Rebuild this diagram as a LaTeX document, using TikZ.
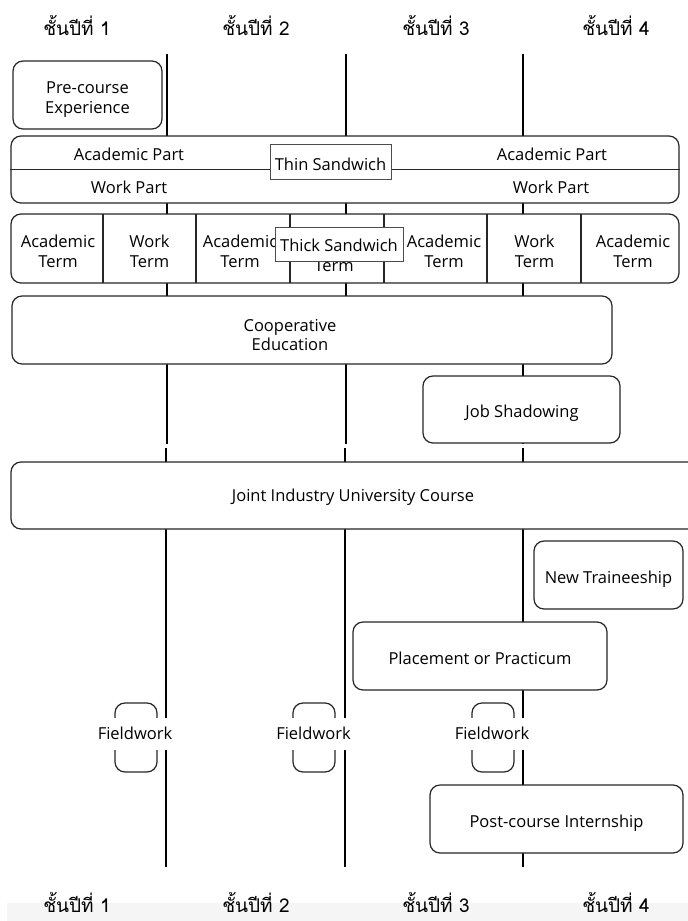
\documentclass[tikz,border=0pt]{standalone}
\usepackage{fontspec}
\setmainfont{Open Sans}
\newfontfamily\thaifont[Script=Thai]{Loma}
\begin{document}
\begin{tikzpicture}[x=1pt,y=-1pt,
  txt/.style={font=\fontsize{16.5}{20}\selectfont, align=center, inner sep=0pt},
  rbox/.style={draw=black!85, line width=1.2pt, rounded corners=10pt, fill=white, inner sep=0pt},
  tagbox/.style={draw=black!70, line width=0.8pt, fill=white, inner sep=0pt},
  hdr/.style={font=\thaifont\fontsize{19}{22}\selectfont, inner sep=0pt, anchor=base},
  yline/.style={line width=1.5pt, black},
  divline/.style={line width=1.2pt, black!85},
  fwbox/.style={draw=black!85, line width=1.2pt, rounded corners=10pt, minimum width=42pt, minimum height=69pt, inner sep=0pt},
  fwlab/.style={fill=white, inner xsep=1pt, inner ysep=0pt, minimum height=32pt, font=\fontsize{16.5}{20}\selectfont}]

\useasboundingbox (0,0) rectangle (688,921);
\fill[black!4] (7,903) rectangle (688,921);

% year headers
\node[hdr] (h1) at (77,35) {ชั้นปีที่ 1};
\node[hdr] (h2) at (256,35) {ชั้นปีที่ 2};
\node[hdr] (h3) at (436,35) {ชั้นปีที่ 3};
\node[hdr] (h4) at (616,35) {ชั้นปีที่ 4};
\node[hdr] (f1) at (77,912) {ชั้นปีที่ 1};
\node[hdr] (f2) at (256,912) {ชั้นปีที่ 2};
\node[hdr] (f3) at (436,912) {ชั้นปีที่ 3};
\node[hdr] (f4) at (616,912) {ชั้นปีที่ 4};

% year boundary lines
\coordinate (ta) at (167,54); \coordinate (ma) at (167,444);
\coordinate (na) at (166,448); \coordinate (ba) at (166,867);
\coordinate (tb) at (346,54); \coordinate (mb) at (346,444);
\coordinate (nb) at (345,448); \coordinate (bb) at (345,867);
\coordinate (tc) at (523,54); \coordinate (mc) at (523,444);
\coordinate (nc) at (523,448); \coordinate (bc) at (523,867);
\draw[yline] (ta) -- (ma); \draw[yline] (na) -- (ba);
\draw[yline] (tb) -- (mb); \draw[yline] (nb) -- (bb);
\draw[yline] (tc) -- (mc); \draw[yline] (nc) -- (bc);

% pre-course
\node[rbox, minimum width=149pt, minimum height=68pt] (pre) at (87.5,95) {};
\node[txt] (preL) at (87.5,100) {Pre-course\\Experience};

% thin sandwich
\node[rbox, minimum width=668pt, minimum height=67pt] (thin) at (345,169.5) {};
\draw[divline] (thin.west) -- (thin.east);
\node[txt] (ap1) at (129,154.5) {Academic Part};
\node[txt] (ap2) at (552,154.5) {Academic Part};
\node[txt] (wp1) at (129,187.5) {Work Part};
\node[txt] (wp2) at (551,187.5) {Work Part};
\node[tagbox, minimum width=121pt, minimum height=35pt] (thin tag) at (330.5,161.5) {};
\node[txt] (thinT) at (330.5,164) {Thin Sandwich};

% thick sandwich
\node[rbox, minimum width=668pt, minimum height=69pt] (thick) at (345,248.5) {};
\foreach \x in {103,196,290,384,487,581} {\draw[divline] (\x,214) -- (\x,283);}
\node[txt] (c1) at (58,251.5) {Academic\\Term};
\node[txt] (c2) at (149.5,251) {Work\\Term};
\node[txt] (c3) at (240,251.5) {Academic\\Term};
\node[txt] (c4) at (334,255) {Work\\Term};
\node[txt] (c5) at (444,251.5) {Academic\\Term};
\node[txt] (c6) at (534.5,251) {Work\\Term};
\node[txt] (c7) at (633,251.5) {Academic\\Term};
\node[tagbox, minimum width=128pt, minimum height=34pt] (thick tag) at (339,244) {};
\node[txt] (thickT) at (339,245.5) {Thick Sandwich};

% cooperative education
\node[rbox, minimum width=600pt, minimum height=68pt] (coop) at (312,330) {};
\node[txt] (coopL) at (290,335.5) {Cooperative\\[-1pt]Education};

% job shadowing
\node[rbox, minimum width=197pt, minimum height=67pt] (job) at (521.5,409.5) {};
\node[txt] (jobL) at (522,413.5) {Job Shadowing};

% joint industry university course
\node[rbox, minimum width=689pt, minimum height=67pt] (joint) at (355.5,495.5) {};
\node[txt] (jointL) at (353,497.5) {Joint Industry University Course};

% new traineeship
\node[rbox, minimum width=149pt, minimum height=68pt] (newt) at (608.5,575) {};
\node[txt] (newtL) at (608.5,579) {New Traineeship};

% placement or practicum
\node[rbox, minimum width=254pt, minimum height=68pt] (place) at (480,656) {};
\node[txt] (placeL) at (480,658.5) {Placement or Practicum};

% fieldwork
\node[fwbox] (fw1) at (136,737.5) {};
\node[fwlab] (fw1L) at (135,733.5) {Fieldwork};
\node[fwbox] (fw2) at (314,737.5) {};
\node[fwlab] (fw2L) at (313.5,733.5) {Fieldwork};
\node[fwbox] (fw3) at (493,737.5) {};
\node[fwlab] (fw3L) at (492,733.5) {Fieldwork};

% post-course internship
\node[rbox, minimum width=253pt, minimum height=68pt] (post) at (556.5,819) {};
\node[txt] (postL) at (556.5,823.5) {Post-course Internship};
\end{tikzpicture}
\end{document}
